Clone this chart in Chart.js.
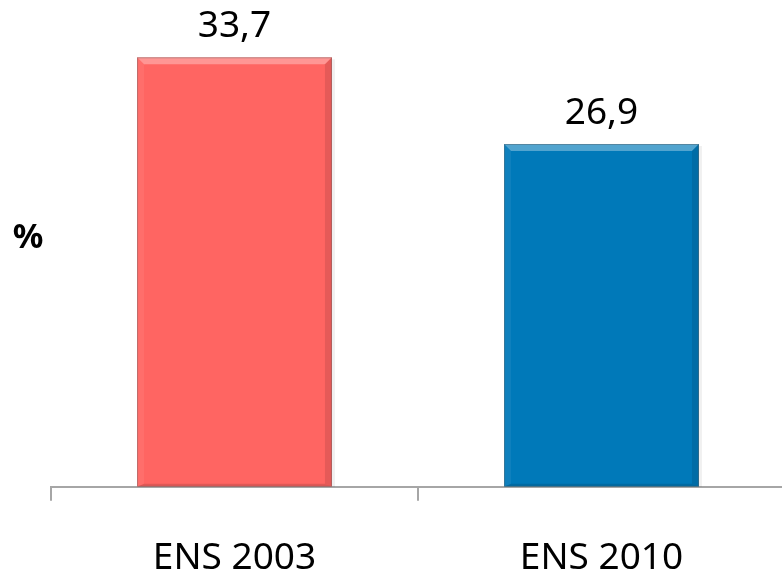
<!DOCTYPE html>
<html>
<head>
<meta charset="utf-8">
<script src="https://cdn.jsdelivr.net/npm/chart.js@4"></script>
<style>
  html, body { margin: 0; padding: 0; background: #fff; overflow: hidden; height: 576px; }
  canvas { display: block; }
</style>
</head>
<body>
<!-- canvas is a bit taller than the page; the extra bottom strip is cropped -->
<canvas id="chart" width="786" height="616"></canvas>
<script>
const categories = ['ENS 2003', 'ENS 2010'];
const values = [33.7, 26.9];
const valueLabels = ['33,7', '26,9'];
const barColors = ['#FF6562', '#0079B9'];
const unitLabel = '%';

// bevel look of the original bars
const bevelPlugin = {
  id: 'bevel',
  afterDatasetsDraw(chart) {
    const ctx = chart.ctx;
    const b = 7, bb = 3;
    chart.getDatasetMeta(0).data.forEach(bar => {
      const l = bar.x - bar.width / 2, r = bar.x + bar.width / 2;
      const t = bar.y, bot = bar.base;
      const poly = (pts, fill) => {
        ctx.beginPath();
        ctx.moveTo(pts[0][0], pts[0][1]);
        pts.slice(1).forEach(p => ctx.lineTo(p[0], p[1]));
        ctx.closePath();
        ctx.fillStyle = fill;
        ctx.fill();
      };
      ctx.save();
      // soft shadow on the right side
      ctx.fillStyle = 'rgba(0,0,0,0.06)';
      ctx.fillRect(r, t + 2, 3, bot - t - 2);
      poly([[l, t], [r, t], [r - b, t + b], [l + b, t + b]], 'rgba(255,255,255,0.32)');
      poly([[l, t], [l + b, t + b], [l + b, bot - bb], [l, bot]], 'rgba(255,255,255,0.06)');
      poly([[r, t], [r - b, t + b], [r - b, bot - bb], [r, bot]], 'rgba(0,0,0,0.10)');
      poly([[l, bot], [l + b, bot - bb], [r - b, bot - bb], [r, bot]], 'rgba(0,0,0,0.12)');
      ctx.strokeStyle = 'rgba(90,90,90,0.4)';
      ctx.lineWidth = 1;
      ctx.strokeRect(l + 0.5, t + 0.5, r - l - 1, bot - t - 1);
      ctx.restore();
    });
  }
};

const labelsPlugin = {
  id: 'valueLabels',
  afterDraw(chart) {
    const ctx = chart.ctx;
    ctx.save();
    ctx.fillStyle = '#000';
    ctx.textAlign = 'center';
    ctx.textBaseline = 'middle';
    ctx.font = '37px "Noto Sans"';
    chart.getDatasetMeta(0).data.forEach((bar, i) => {
      ctx.fillText(valueLabels[i], bar.x, bar.y - 31);
    });
    ctx.font = 'bold 34px "Noto Sans"';
    ctx.fillText(unitLabel, 28, 238);
    ctx.restore();
  }
};

new Chart(document.getElementById('chart'), {
  type: 'bar',
  data: {
    labels: categories,
    datasets: [{
      data: values,
      backgroundColor: barColors,
      borderWidth: 0,
      barPercentage: 0.531,
      categoryPercentage: 1
    }]
  },
  options: {
    responsive: false,
    animation: false,
    layout: { padding: { top: 28, left: 51, right: 1, bottom: 0 } },
    plugins: { legend: { display: false }, tooltip: { enabled: false } },
    scales: {
      x: {
        grid: { display: true, drawOnChartArea: false, drawTicks: true, tickLength: 14, color: '#a6a6a6', lineWidth: 2 },
        border: { display: true, color: '#a6a6a6', width: 2 },
        ticks: { color: '#000', padding: 40, font: { family: '"Noto Sans"', size: 37, lineHeight: 0.95 } }
      },
      y: {
        display: false,
        min: 0,
        max: 36
      }
    }
  },
  plugins: [bevelPlugin, labelsPlugin]
});
</script>
</body>
</html>
